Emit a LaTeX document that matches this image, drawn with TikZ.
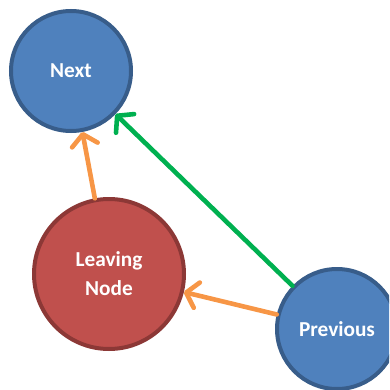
\documentclass[tikz,border=0pt]{standalone}
\usepackage{fontspec}
\setmainfont{Carlito}
\usetikzlibrary{arrows.meta}
\definecolor{nodeblue}{HTML}{4F81BD}
\definecolor{nodeblueline}{HTML}{385D8A}
\definecolor{nodered}{HTML}{C0504D}
\definecolor{noderedline}{HTML}{8C3836}
\definecolor{arroworange}{HTML}{F79646}
\definecolor{arrowgreen}{HTML}{00B050}
\begin{document}
\begin{tikzpicture}[x=1pt,y=-1pt,
  listnode/.style={circle,line width=4pt,inner sep=0pt,align=center,text=white,font=\bfseries\fontsize{21.3}{29}\selectfont},
  bluenode/.style={listnode,fill=nodeblue,draw=nodeblueline,minimum size=120pt},
  rednode/.style={listnode,fill=nodered,draw=noderedline,minimum size=150pt},
  ptr/.style={line width=4.6pt,line cap=round,-{Straight Barb[length=11pt,width=26pt,line cap=round,line join=round]}}]
\useasboundingbox (0,0) rectangle (389,390);
\clip (0,0) rectangle (389,390);
\node[bluenode] (next) at (71,71) {Next};				%next
\node[rednode] (leaving) at (109,274) {Leaving\\Node};	%leaving node
\node[bluenode] (prev) at (337,329) {Previous};			%previous
\draw[ptr,arroworange] (leaving) -- (next);
\draw[ptr,arrowgreen] (prev) -- (next);
\draw[ptr,arroworange] (prev) -- (leaving);
\end{tikzpicture}
\end{document}
